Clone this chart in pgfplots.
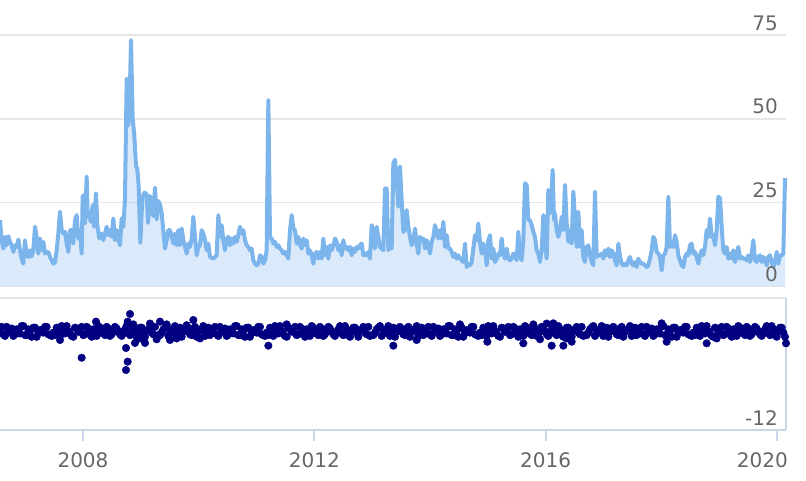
\documentclass[border=0pt]{standalone}
\usepackage{pgfplots}
\pgfplotsset{compat=1.18}
\usepackage{pgfplotstable}
\usepackage{fontspec}
\setmainfont{DejaVu Sans}
\definecolor{hcblue}{HTML}{7CB5EC}
\definecolor{gridc}{HTML}{E6E6E6}
\definecolor{axisc}{HTML}{CCD6EB}
\definecolor{labc}{HTML}{666666}
\definecolor{navyc}{HTML}{000080}

% x = time index (3 units per pixel of the reference), y = value
\pgfplotstableread{
x y
0 19.8
5 13.8
10 11.3
15 14.8
20 12.3
25 15
30 13.3
35 12.3
40 10.3
45 12.3
50 11.8
55 14
60 10.8
65 8.3
70 6.8
75 13.8
80 9.3
85 8.8
90 10.8
95 9
100 10.8
105 17.8
110 14.8
115 9.8
120 14.3
125 10.8
130 13.3
135 9.8
140 10.3
145 10.3
150 8.8
155 7.8
160 6.8
165 7.3
170 10.8
175 15.8
180 22.3
185 16.8
190 15.8
195 16.3
200 12.8
205 10.3
210 16.8
215 16.8
220 12.8
225 19.8
230 21.3
235 14.3
240 16.8
245 9.8
248 26.8
252 27.3
255 18.8
260 32.8
263 20.8
268 21.8
272 19.3
278 24.3
282 17.8
288 27.8
292 18.3
298 14.3
305 15.8
310 13.8
315 15.8
320 17.8
325 15.3
330 16.8
335 14.8
340 20.3
345 13.8
350 16.8
355 14.3
360 12.3
365 20.3
370 17.8
375 26.3
380 62
385 48
390 60
393 73.5
398 50
403 45
408 36
412 35
416 30
421 13
427 26.6
434 28
440 27.5
444 19
450 27
456 23
460 21
465 29.5
470 20
475 25.5
480 24.5
485 22
490 16.5
495 11.3
500 13.8
505 16.8
510 16.8
515 14.8
520 12.8
525 15.8
530 12.3
535 16.8
540 12.3
545 17.3
550 13.8
555 11.8
560 9.8
565 12.8
570 11.8
575 14.3
580 20.8
585 14.8
590 9.3
595 11.8
600 12.3
605 16.8
610 15.8
615 13.8
620 10.8
625 12.8
630 8.8
640 8.3
650 9.3
655 21.3
660 14.8
665 18.3
670 13.8
675 10.8
680 14.3
685 14.8
690 12.3
695 14.3
700 12.8
705 14.8
710 13.3
715 15.3
720 17.8
725 15.8
730 16.8
735 13.8
740 12.3
745 11.8
750 10.8
755 11.3
760 7.8
765 6.8
770 6.3
775 6.8
780 9.3
785 8.8
790 6.8
795 7.8
800 10.8
805 55.6
810 14.8
815 14.3
820 12.8
825 13.3
830 11.8
835 12.3
840 11.3
845 10.8
850 9.8
855 10.3
860 9.3
865 8.3
870 16.8
875 21.3
880 17.3
885 16.8
890 12.8
895 14.8
900 12.3
905 11.3
910 14.3
915 12.3
920 13.8
925 9.8
930 10.8
935 9.3
940 6.8
945 9.8
950 10.3
955 8.3
960 10.3
965 8.3
970 14.3
975 9.3
980 11.8
985 8.3
990 12.3
995 10.8
1000 12.3
1005 14.3
1010 13.3
1015 10.8
1020 12.3
1025 9.3
1030 13.8
1035 11.3
1040 11.8
1045 10.8
1050 11.8
1055 9.3
1060 11.3
1065 10.3
1070 11.8
1075 11.3
1080 12.3
1085 12.8
1090 9.3
1095 9.8
1100 9.3
1105 10.3
1110 8.3
1115 18.3
1120 16.3
1125 11.3
1130 17.8
1135 14.8
1140 11.8
1145 11.3
1150 10.8
1155 29.3
1160 29.3
1165 10.8
1170 14.8
1175 11.3
1180 36.8
1185 37.8
1190 31.8
1195 23.8
1200 35.8
1205 25.8
1210 16.3
1215 16.8
1220 22.8
1225 17.8
1230 14.8
1235 12.3
1240 13.8
1245 17.3
1250 12.8
1255 9.8
1260 14.8
1265 13.8
1270 14.3
1275 11.3
1280 13.8
1285 12.3
1290 9.8
1295 13.3
1300 14.8
1305 18.3
1310 16.3
1315 14.3
1320 16.8
1325 14.3
1330 19.3
1335 11.8
1340 15.3
1345 11.3
1350 11.3
1355 10.3
1360 8.8
1365 9.8
1370 8.3
1375 9.3
1380 8.3
1385 7.8
1390 7.3
1395 12.8
1400 5.8
1405 6.8
1410 6.3
1415 7.3
1420 11.3
1425 15.3
1430 13.8
1435 18.8
1440 13.3
1445 9.8
1450 12.8
1455 11.3
1460 6.3
1465 13.8
1470 15.3
1475 8.3
1480 11.3
1485 7.3
1490 8.3
1495 9.8
1500 9.3
1505 14.3
1510 9.8
1515 8.3
1520 11.3
1525 8.3
1530 7.8
1535 8.3
1540 9.8
1545 9.3
1550 7.8
1555 16.3
1560 9.3
1565 7.8
1570 13.8
1575 30.8
1580 30.3
1585 19.8
1590 19.8
1595 18.3
1600 16.3
1605 14.8
1610 10.8
1615 9.8
1620 7.3
1625 10.8
1630 21.3
1635 13.8
1640 8.3
1645 28.8
1650 21.8
1655 28.8
1658 34.8
1662 19.8
1665 21.8
1670 16.8
1675 14.8
1680 16.8
1685 20.8
1690 16.8
1695 30.3
1700 18.8
1705 13.3
1710 16.8
1715 12.8
1720 28.3
1725 20.3
1730 11.8
1735 22.3
1740 11.8
1745 16.8
1750 8.8
1755 7.3
1760 11.8
1765 12.3
1770 9.3
1775 7.3
1780 6.3
1785 28.3
1790 8.8
1795 9.3
1800 9.3
1805 9.8
1810 8.3
1815 10.8
1820 9.3
1825 11.3
1830 8.8
1835 10.8
1840 9.8
1845 7.8
1850 6.3
1855 12.8
1860 8.8
1865 6.8
1870 6.3
1875 6.8
1880 6.3
1885 7.8
1890 8.8
1895 6.8
1900 6.3
1905 7.3
1910 5.8
1915 8.3
1920 7.3
1925 6.8
1930 6.8
1935 6.3
1940 5.8
1945 6.3
1950 8.3
1955 10.8
1960 14.8
1965 13.8
1970 10.3
1975 9.8
1980 8.8
1985 4.8
1990 9.3
1995 9.8
2000 11.8
2005 26.8
2010 11.8
2015 12.3
2020 11.8
2025 15.3
2030 13.3
2035 9.3
2040 7.8
2045 6.3
2050 5.8
2055 8.8
2060 9.8
2065 9.3
2070 12.3
2075 12.8
2080 9.8
2085 10.3
2090 8.8
2095 6.8
2100 9.3
2105 10.8
2110 9.3
2115 11.8
2120 16.8
2125 14.8
2130 20.3
2135 14.8
2140 15.3
2145 12.3
2150 16.8
2155 26.8
2160 26.3
2165 17.8
2170 10.8
2175 9.8
2180 11.8
2185 8.3
2190 9.8
2195 8.3
2200 10.8
2205 7.3
2210 9.3
2215 11.8
2220 8.3
2225 8.8
2230 8.3
2235 8.3
2240 7.8
2245 9.3
2250 7.3
2255 9.8
2260 13.8
2265 7.8
2270 7.3
2275 8.8
2280 9.3
2285 7.3
2290 8.8
2295 8.3
2300 6.3
2305 8.8
2310 9.3
2315 7.3
2320 5.8
2325 7.3
2330 10.3
2335 6.8
2340 9.3
2345 9.3
2350 9.8
2355 32.3
}\topdata

\begin{document}
\begin{tikzpicture}[font=\fontsize{20}{24}\selectfont]
\useasboundingbox (0,0) rectangle (806pt,481pt);

% ---------- top panel ----------
\begin{axis}[
  at={(0pt,194.5pt)}, anchor=south west, scale only axis,
  width=786pt, height=285pt,
  xmin=0, xmax=2358, ymin=0, ymax=85,
  axis line style={draw=none}, tick style={draw=none},
  xtick=\empty, ytick={0,25,50,75}, yticklabels={,,,},
  ymajorgrids, grid style={gridc, line width=1.3pt},
  clip=false,
]
\addplot[draw=none, fill=hcblue, fill opacity=0.28] table {\topdata} \closedcycle;
\addplot[hcblue, line width=4pt, line join=round] table {\topdata};
\node[anchor=base east, inner sep=0pt, text=labc] at ([xshift=-8pt,yshift=5pt]axis cs:2358,0) {0};
\node[anchor=base east, inner sep=0pt, text=labc] at ([xshift=-8pt,yshift=5pt]axis cs:2358,25) {25};
\node[anchor=base east, inner sep=0pt, text=labc] at ([xshift=-8pt,yshift=5pt]axis cs:2358,50) {50};
\node[anchor=base east, inner sep=0pt, text=labc] at ([xshift=-8pt,yshift=5pt]axis cs:2358,75) {75};
\end{axis}

% ---------- bottom panel ----------
\begin{axis}[
  at={(0pt,51pt)}, anchor=south west, scale only axis,
  width=786pt, height=132pt,
  xmin=0, xmax=2358, ymin=-12, ymax=4,
  axis x line*=bottom, axis y line*=right,
  axis line style={axisc, line width=1.7pt, -},
  ytick={-12,4}, yticklabels={,}, ytick style={draw=none},
  ymajorgrids, grid style={gridc, line width=1.3pt},
  xtick={249,943,1637,2331}, xticklabels={,,,},
  tick align=outside, major tick length=11pt,
  xtick style={axisc, line width=1.7pt},
  clip=false,
]
\addplot[only marks, mark=*, mark size=3.8pt, color=navyc, mark options={draw=navyc, fill=navyc}] coordinates {
(0,0.3)(10,-0.4)(20,0.5)(30,-0.1)(40,-0.6)(50,0.2)(60,-0.3)(70,0.6)(80,-0.5)(90,0.0)(100,0.4)(110,-0.7)(120,0.1)(130,-0.2)(140,0.5)(150,-0.5)
(160,-0.2)(170,0.4)(180,-0.6)(190,0.1)(200,0.6)(210,-0.3)(220,-0.7)(230,0.3)(240,0.0)(250,-0.5)(260,0.5)(270,-0.1)(280,0.2)(290,-0.6)(300,0.4)(310,-0.3)
(320,0.5)(330,-0.6)(340,0.0)(350,0.3)(360,-0.4)(370,-0.1)(380,0.6)(390,-0.5)(400,0.2)(410,-0.7)(420,0.4)(430,-0.2)(440,0.1)(450,0.5)(460,-0.4)(470,-0.6)
(480,-0.5)(490,0.2)(500,0.6)(510,-0.3)(520,0.0)(530,-0.6)(540,0.4)(550,-0.1)(560,0.5)(570,-0.4)(580,0.3)(590,-0.7)(600,0.1)(610,0.6)(620,-0.2)(630,-0.5)
(640,0.3)(650,-0.4)(660,0.5)(670,-0.1)(680,-0.6)(690,0.2)(700,-0.3)(710,0.6)(720,-0.5)(730,0.0)(740,0.4)(750,-0.7)(760,0.1)(770,-0.2)(780,0.5)(790,-0.5)
(800,-0.2)(810,0.4)(820,-0.6)(830,0.1)(840,0.6)(850,-0.3)(860,-0.7)(870,0.3)(880,0.0)(890,-0.5)(900,0.5)(910,-0.1)(920,0.2)(930,-0.6)(940,0.4)(950,-0.3)
(960,0.5)(970,-0.6)(980,0.0)(990,0.3)(1000,-0.4)(1010,-0.1)(1020,0.6)(1030,-0.5)(1040,0.2)(1050,-0.7)(1060,0.4)(1070,-0.2)(1080,0.1)(1090,0.5)(1100,-0.4)(1110,-0.6)
(1120,-0.5)(1130,0.2)(1140,0.6)(1150,-0.3)(1160,0.0)(1170,-0.6)(1180,0.4)(1190,-0.1)(1200,0.5)(1210,-0.4)(1220,0.3)(1230,-0.7)(1240,0.1)(1250,0.6)(1260,-0.2)(1270,-0.5)
(1280,0.3)(1290,-0.4)(1300,0.5)(1310,-0.1)(1320,-0.6)(1330,0.2)(1340,-0.3)(1350,0.6)(1360,-0.5)(1370,0.0)(1380,0.4)(1390,-0.7)(1400,0.1)(1410,-0.2)(1420,0.5)(1430,-0.5)
(1440,-0.2)(1450,0.4)(1460,-0.6)(1470,0.1)(1480,0.6)(1490,-0.3)(1500,-0.7)(1510,0.3)(1520,0.0)(1530,-0.5)(1540,0.5)(1550,-0.1)(1560,0.2)(1570,-0.6)(1580,0.4)(1590,-0.3)
(1600,0.5)(1610,-0.6)(1620,0.0)(1630,0.3)(1640,-0.4)(1650,-0.1)(1660,0.6)(1670,-0.5)(1680,0.2)(1690,-0.7)(1700,0.4)(1710,-0.2)(1720,0.1)(1730,0.5)(1740,-0.4)(1750,-0.6)
(1760,-0.5)(1770,0.2)(1780,0.6)(1790,-0.3)(1800,0.0)(1810,-0.6)(1820,0.4)(1830,-0.1)(1840,0.5)(1850,-0.4)(1860,0.3)(1870,-0.7)(1880,0.1)(1890,0.6)(1900,-0.2)(1910,-0.5)
(1920,0.3)(1930,-0.4)(1940,0.5)(1950,-0.1)(1960,-0.6)(1970,0.2)(1980,-0.3)(1990,0.6)(2000,-0.5)(2010,0.0)(2020,0.4)(2030,-0.7)(2040,0.1)(2050,-0.2)(2060,0.5)(2070,-0.5)
(2080,-0.2)(2090,0.4)(2100,-0.6)(2110,0.1)(2120,0.6)(2130,-0.3)(2140,-0.7)(2150,0.3)(2160,0.0)(2170,-0.5)(2180,0.5)(2190,-0.1)(2200,0.2)(2210,-0.6)(2220,0.4)(2230,-0.3)
(2240,0.5)(2250,-0.6)(2260,0.0)(2270,0.3)(2280,-0.4)(2290,-0.1)(2300,0.6)(2310,-0.5)(2320,0.2)(2330,-0.7)(2340,0.4)(2350,-0.2)
(5,0.5)(15,-0.6)(25,0.0)(35,0.3)(45,-0.4)(55,-0.1)(65,0.6)(75,-0.5)(85,0.2)(95,-0.7)(105,0.4)(115,-0.2)(125,0.1)(135,0.5)(145,-0.4)(155,-0.6)
(165,-0.5)(175,0.2)(185,0.6)(195,-0.3)(205,0.0)(215,-0.6)(225,0.4)(235,-0.1)(245,0.5)(255,-0.4)(265,0.3)(275,-0.7)(285,0.1)(295,0.6)(305,-0.2)(315,-0.5)
(325,0.3)(335,-0.4)(345,0.5)(355,-0.1)(365,-0.6)(375,0.2)(385,-0.3)(395,0.6)(405,-0.5)(415,0.0)(425,0.4)(435,-0.7)(445,0.1)(455,-0.2)(465,0.5)(475,-0.5)
(485,-0.2)(495,0.4)(505,-0.6)(515,0.1)(525,0.6)(535,-0.3)(545,-0.7)(555,0.3)(565,0.0)(575,-0.5)(585,0.5)(595,-0.1)(605,0.2)(615,-0.6)(625,0.4)(635,-0.3)
(645,0.5)(655,-0.6)(665,0.0)(675,0.3)(685,-0.4)(695,-0.1)(705,0.6)(715,-0.5)(725,0.2)(735,-0.7)(745,0.4)(755,-0.2)(765,0.1)(775,0.5)(785,-0.4)(795,-0.6)
(805,-0.5)(815,0.2)(825,0.6)(835,-0.3)(845,0.0)(855,-0.6)(865,0.4)(875,-0.1)(885,0.5)(895,-0.4)(905,0.3)(915,-0.7)(925,0.1)(935,0.6)(945,-0.2)(955,-0.5)
(965,0.3)(975,-0.4)(985,0.5)(995,-0.1)(1005,-0.6)(1015,0.2)(1025,-0.3)(1035,0.6)(1045,-0.5)(1055,0.0)(1065,0.4)(1075,-0.7)(1085,0.1)(1095,-0.2)(1105,0.5)(1115,-0.5)
(1125,-0.2)(1135,0.4)(1145,-0.6)(1155,0.1)(1165,0.6)(1175,-0.3)(1185,-0.7)(1195,0.3)(1205,0.0)(1215,-0.5)(1225,0.5)(1235,-0.1)(1245,0.2)(1255,-0.6)(1265,0.4)(1275,-0.3)
(1285,0.5)(1295,-0.6)(1305,0.0)(1315,0.3)(1325,-0.4)(1335,-0.1)(1345,0.6)(1355,-0.5)(1365,0.2)(1375,-0.7)(1385,0.4)(1395,-0.2)(1405,0.1)(1415,0.5)(1425,-0.4)(1435,-0.6)
(1445,-0.5)(1455,0.2)(1465,0.6)(1475,-0.3)(1485,0.0)(1495,-0.6)(1505,0.4)(1515,-0.1)(1525,0.5)(1535,-0.4)(1545,0.3)(1555,-0.7)(1565,0.1)(1575,0.6)(1585,-0.2)(1595,-0.5)
(1605,0.3)(1615,-0.4)(1625,0.5)(1635,-0.1)(1645,-0.6)(1655,0.2)(1665,-0.3)(1675,0.6)(1685,-0.5)(1695,0.0)(1705,0.4)(1715,-0.7)(1725,0.1)(1735,-0.2)(1745,0.5)(1755,-0.5)
(1765,-0.2)(1775,0.4)(1785,-0.6)(1795,0.1)(1805,0.6)(1815,-0.3)(1825,-0.7)(1835,0.3)(1845,0.0)(1855,-0.5)(1865,0.5)(1875,-0.1)(1885,0.2)(1895,-0.6)(1905,0.4)(1915,-0.3)
(1925,0.5)(1935,-0.6)(1945,0.0)(1955,0.3)(1965,-0.4)(1975,-0.1)(1985,0.6)(1995,-0.5)(2005,0.2)(2015,-0.7)(2025,0.4)(2035,-0.2)(2045,0.1)(2055,0.5)(2065,-0.4)(2075,-0.6)
(2085,-0.5)(2095,0.2)(2105,0.6)(2115,-0.3)(2125,0.0)(2135,-0.6)(2145,0.4)(2155,-0.1)(2165,0.5)(2175,-0.4)(2185,0.3)(2195,-0.7)(2205,0.1)(2215,0.6)(2225,-0.2)(2235,-0.5)
(2245,0.3)(2255,-0.4)(2265,0.5)(2275,-0.1)(2285,-0.6)(2295,0.2)(2305,-0.3)(2315,0.6)(2325,-0.5)(2335,0.0)(2345,0.4)(2355,-0.7)
(400,0.8)(430,-0.9)(450,0.9)(470,-1.0)(500,0.8)(530,-0.9)(560,0.7)(600,-0.9)
(1600,0.8)(1620,-1.0)(1640,0.9)(1700,-0.9)(860,0.8)(1380,0.8)(2150,-0.9)
(180,-1.09)(245,-3.24)(288,1.13)(378,-4.73)(383,-3.72)(378,-2.06)(383,1.13)(390,2.06)
(405,-1.45)(420,-0.9)(435,-1.45)(480,1.13)(510,-1.09)(580,1.33)(805,-1.78)
(1180,-1.78)(1250,-1.09)(1462,-1.3)(1570,-1.49)(1655,-1.78)(1660,0.93)(1690,-1.78)
(1715,-1.3)(1985,0.93)(2000,-1.3)(2120,-1.49)(2358,-1.49)
};
\node[anchor=base east, inner sep=0pt, text=labc] at ([xshift=-8pt,yshift=4.5pt]axis cs:2358,-12) {-12};
\node[anchor=north, inner sep=0pt, text=labc] at ([yshift=-22.7pt]axis cs:249,-12) {2008};
\node[anchor=north, inner sep=0pt, text=labc] at ([yshift=-22.7pt]axis cs:943,-12) {2012};
\node[anchor=north, inner sep=0pt, text=labc] at ([yshift=-22.7pt]axis cs:1637,-12) {2016};
\node[anchor=north east, inner sep=0pt, text=labc] at ([xshift=2pt,yshift=-22.7pt]axis cs:2358,-12) {2020};
\end{axis}
\end{tikzpicture}
\end{document}
